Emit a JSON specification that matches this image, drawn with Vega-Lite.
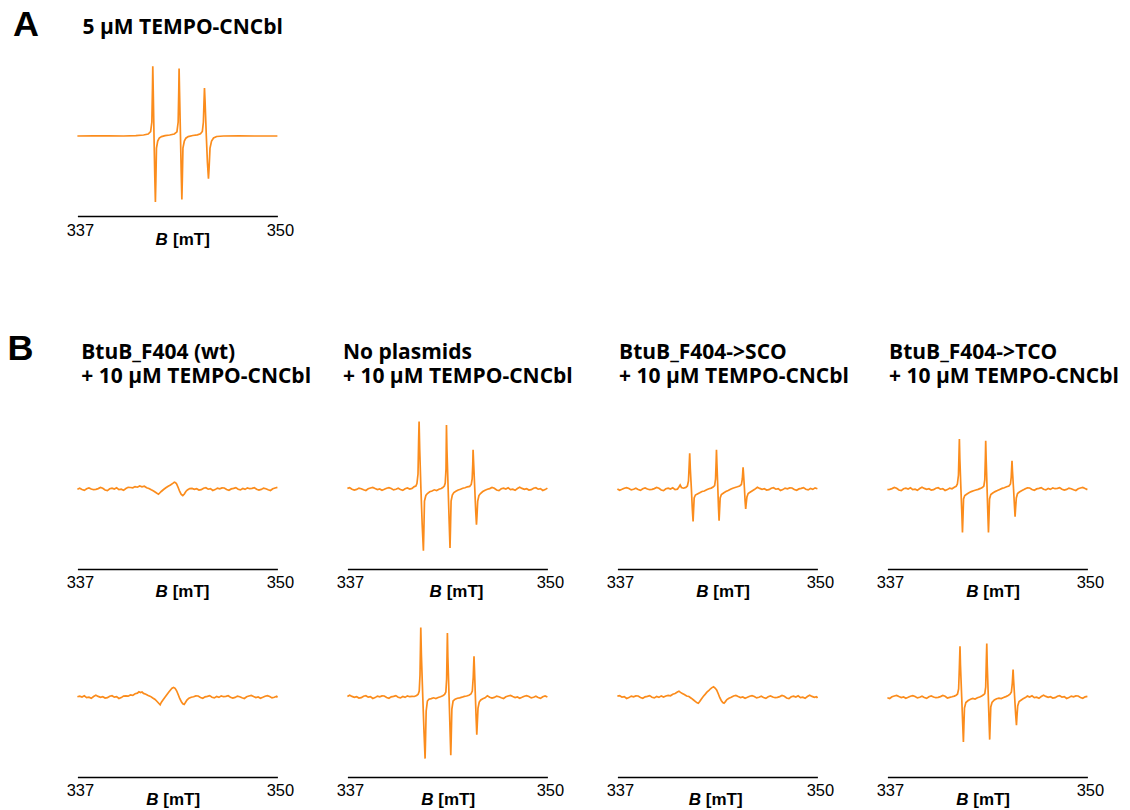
{
  "$schema": "https://vega.github.io/schema/vega-lite/v6.json",
  "background": "white",
  "padding": {"left": 7.4, "top": 7, "right": 5, "bottom": 5},
  "columns": 4,
  "bounds": "flush",
  "align": {"row": "each", "column": "all"},
  "spacing": {"row": 48, "column": 70},
  "datasets": {
    "a": [{"x":337,"y":0},{"x":338,"y":0.1},{"x":339,"y":0.2},{"x":340,"y":0},{"x":340.8,"y":0.4},{"x":341.3,"y":1},{"x":341.6,"y":2},{"x":341.76,"y":4.5},{"x":341.84,"y":14},{"x":341.88,"y":48},{"x":341.9,"y":69.7},{"x":341.93,"y":45},{"x":341.98,"y":0},{"x":342.03,"y":-40},{"x":342.07,"y":-66},{"x":342.1,"y":-45},{"x":342.14,"y":-12},{"x":342.22,"y":-5},{"x":342.32,"y":-2},{"x":342.47,"y":-0.6},{"x":342.7,"y":0.4},{"x":343,"y":1},{"x":343.3,"y":2},{"x":343.47,"y":4.2},{"x":343.55,"y":14},{"x":343.59,"y":46},{"x":343.61,"y":67.4},{"x":343.64,"y":44},{"x":343.7,"y":0},{"x":343.75,"y":-38},{"x":343.79,"y":-63.6},{"x":343.82,"y":-44},{"x":343.86,"y":-12},{"x":343.95,"y":-5},{"x":344.05,"y":-2.2},{"x":344.2,"y":-0.6},{"x":344.5,"y":0.5},{"x":344.8,"y":1.2},{"x":345,"y":2.2},{"x":345.12,"y":4.5},{"x":345.19,"y":14},{"x":345.23,"y":34},{"x":345.26,"y":48},{"x":345.3,"y":34},{"x":345.38,"y":0},{"x":345.45,"y":-26},{"x":345.52,"y":-42.6},{"x":345.56,"y":-32},{"x":345.62,"y":-12},{"x":345.72,"y":-5},{"x":345.85,"y":-2},{"x":346.05,"y":-0.5},{"x":346.5,"y":0},{"x":347.5,"y":0.2},{"x":348.5,"y":0},{"x":350,"y":0}],
    "b1": [{"x":337,"y":-0.2},{"x":337.15,"y":0.7},{"x":337.3,"y":-0.5},{"x":337.45,"y":-1.4},{"x":337.6,"y":0.3},{"x":337.75,"y":1.1},{"x":337.9,"y":0},{"x":338.05,"y":-0.7},{"x":338.2,"y":-0.3},{"x":338.35,"y":0.4},{"x":338.5,"y":1.5},{"x":338.65,"y":0.7},{"x":338.8,"y":-1},{"x":338.95,"y":-1.6},{"x":339.1,"y":0.2},{"x":339.25,"y":0.9},{"x":339.4,"y":-0.1},{"x":339.55,"y":1.2},{"x":339.7,"y":-0.6},{"x":339.85,"y":-0.2},{"x":340,"y":-1.3},{"x":340.15,"y":0.5},{"x":340.3,"y":1.7},{"x":340.45,"y":1.5},{"x":340.6,"y":1.2},{"x":340.75,"y":2.4},{"x":340.9,"y":1.8},{"x":341.05,"y":3},{"x":341.2,"y":2.2},{"x":341.35,"y":2.8},{"x":341.5,"y":1.2},{"x":341.65,"y":0.5},{"x":341.8,"y":-0.8},{"x":341.95,"y":-2},{"x":342.1,"y":-3.5},{"x":342.2,"y":-4.6},{"x":342.27,"y":-5.2},{"x":342.35,"y":-4},{"x":342.45,"y":-2.5},{"x":342.6,"y":-0.5},{"x":342.75,"y":1.2},{"x":342.9,"y":2.8},{"x":343.05,"y":4},{"x":343.2,"y":5.6},{"x":343.3,"y":6.8},{"x":343.38,"y":6.2},{"x":343.45,"y":5},{"x":343.55,"y":1.5},{"x":343.65,"y":-2.5},{"x":343.75,"y":-5.5},{"x":343.85,"y":-6.7},{"x":343.95,"y":-5},{"x":344.05,"y":-2.5},{"x":344.15,"y":-1},{"x":344.3,"y":0.4},{"x":344.45,"y":0.6},{"x":344.6,"y":-0.4},{"x":344.75,"y":0.3},{"x":344.9,"y":-1.1},{"x":345.05,"y":-0.7},{"x":345.2,"y":0.8},{"x":345.35,"y":1.3},{"x":345.5,"y":-0.2},{"x":345.65,"y":0.4},{"x":345.8,"y":-1.5},{"x":345.95,"y":-0.6},{"x":346.1,"y":0.9},{"x":346.25,"y":0.2},{"x":346.4,"y":1.1},{"x":346.55,"y":1},{"x":346.7,"y":-0.5},{"x":346.85,"y":-1.3},{"x":347,"y":0.1},{"x":347.15,"y":0.6},{"x":347.3,"y":1.4},{"x":347.45,"y":-0.2},{"x":347.6,"y":-0.9},{"x":347.75,"y":0.5},{"x":347.9,"y":-0.4},{"x":348.05,"y":1.1},{"x":348.2,"y":0.3},{"x":348.35,"y":0.6},{"x":348.5,"y":1.3},{"x":348.65,"y":-0.2},{"x":348.8,"y":-1.1},{"x":348.95,"y":-0.4},{"x":349.1,"y":0.9},{"x":349.25,"y":0.3},{"x":349.4,"y":-0.8},{"x":349.55,"y":-1.5},{"x":349.7,"y":0.2},{"x":349.85,"y":1},{"x":350,"y":1.6}],
    "b2": [{"x":337,"y":0.6},{"x":337.15,"y":1.3},{"x":337.3,"y":-0.2},{"x":337.45,"y":-1.1},{"x":337.6,"y":-0.4},{"x":337.75,"y":0.9},{"x":337.9,"y":0.3},{"x":338.05,"y":-0.8},{"x":338.2,"y":-1.5},{"x":338.35,"y":0.2},{"x":338.5,"y":1},{"x":338.65,"y":1.6},{"x":338.8,"y":0.4},{"x":338.95,"y":-0.6},{"x":339.1,"y":0.1},{"x":339.25,"y":-1.2},{"x":339.4,"y":-0.3},{"x":339.55,"y":0.8},{"x":339.7,"y":1.4},{"x":339.85,"y":0.5},{"x":340,"y":-0.9},{"x":340.15,"y":-0.2},{"x":340.3,"y":0.7},{"x":340.45,"y":-0.5},{"x":340.6,"y":-1.4},{"x":340.75,"y":0.3},{"x":340.9,"y":1.1},{"x":341.05,"y":0},{"x":341.2,"y":0.6},{"x":341.35,"y":2.4},{"x":341.45,"y":3},{"x":341.52,"y":5.5},{"x":341.59,"y":15},{"x":341.63,"y":48},{"x":341.66,"y":67.6},{"x":341.7,"y":40},{"x":341.78,"y":0},{"x":341.86,"y":-35},{"x":341.94,"y":-61.7},{"x":341.97,"y":-42},{"x":342.01,"y":-12},{"x":342.1,"y":-6.5},{"x":342.2,"y":-4.5},{"x":342.35,"y":-2.8},{"x":342.5,"y":-2},{"x":342.65,"y":-0.8},{"x":342.8,"y":-1.5},{"x":342.95,"y":-0.2},{"x":343.1,"y":0.5},{"x":343.2,"y":1.5},{"x":343.3,"y":3},{"x":343.36,"y":6},{"x":343.41,"y":20},{"x":343.44,"y":64},{"x":343.47,"y":40},{"x":343.55,"y":0},{"x":343.62,"y":-35},{"x":343.67,"y":-59},{"x":343.7,"y":-40},{"x":343.74,"y":-12},{"x":343.82,"y":-6},{"x":343.92,"y":-3.5},{"x":344.05,"y":-2.2},{"x":344.2,"y":-1},{"x":344.35,"y":-0.2},{"x":344.5,"y":0.8},{"x":344.65,"y":1.2},{"x":344.8,"y":2.2},{"x":344.95,"y":2.6},{"x":345.05,"y":4.5},{"x":345.11,"y":10},{"x":345.15,"y":25},{"x":345.17,"y":39.3},{"x":345.2,"y":28},{"x":345.28,"y":0},{"x":345.34,"y":-22},{"x":345.39,"y":-35.7},{"x":345.42,"y":-28},{"x":345.47,"y":-12},{"x":345.55,"y":-6.5},{"x":345.65,"y":-4.5},{"x":345.8,"y":-2.5},{"x":345.95,"y":-1.2},{"x":346.1,"y":-0.3},{"x":346.25,"y":0.4},{"x":346.4,"y":1.5},{"x":346.55,"y":0.7},{"x":346.7,"y":-1},{"x":346.85,"y":-1.6},{"x":347,"y":0.2},{"x":347.15,"y":0.9},{"x":347.3,"y":-0.1},{"x":347.45,"y":1.2},{"x":347.6,"y":-0.6},{"x":347.75,"y":-0.2},{"x":347.9,"y":-1.3},{"x":348.05,"y":0.5},{"x":348.2,"y":1.7},{"x":348.35,"y":0.6},{"x":348.5,"y":-0.4},{"x":348.65,"y":0.3},{"x":348.8,"y":-1.1},{"x":348.95,"y":-0.7},{"x":349.1,"y":0.8},{"x":349.25,"y":1.3},{"x":349.4,"y":-0.2},{"x":349.55,"y":0.4},{"x":349.7,"y":-1.5},{"x":349.85,"y":-0.6},{"x":350,"y":0.9}],
    "b3": [{"x":337,"y":0.1},{"x":337.15,"y":-1.2},{"x":337.3,"y":-0.3},{"x":337.45,"y":0.8},{"x":337.6,"y":1.4},{"x":337.75,"y":0.5},{"x":337.9,"y":-0.9},{"x":338.05,"y":-0.2},{"x":338.2,"y":0.7},{"x":338.35,"y":-0.5},{"x":338.5,"y":-1.4},{"x":338.65,"y":0.3},{"x":338.8,"y":1.1},{"x":338.95,"y":0},{"x":339.1,"y":-0.7},{"x":339.25,"y":-0.3},{"x":339.4,"y":0.4},{"x":339.55,"y":1.5},{"x":339.7,"y":0.7},{"x":339.85,"y":-1},{"x":340,"y":-1.6},{"x":340.15,"y":0.2},{"x":340.3,"y":0.9},{"x":340.45,"y":-0.1},{"x":340.6,"y":1.2},{"x":340.75,"y":-0.6},{"x":340.9,"y":-0.2},{"x":341,"y":2},{"x":341.08,"y":4},{"x":341.16,"y":1.5},{"x":341.3,"y":0.8},{"x":341.45,"y":1.6},{"x":341.55,"y":3},{"x":341.62,"y":8},{"x":341.67,"y":25},{"x":341.7,"y":35.6},{"x":341.74,"y":20},{"x":341.81,"y":0},{"x":341.87,"y":-20},{"x":341.92,"y":-32.4},{"x":341.95,"y":-22},{"x":341.99,"y":-9},{"x":342.07,"y":-6},{"x":342.2,"y":-5},{"x":342.35,"y":-3.8},{"x":342.5,"y":-2.5},{"x":342.65,"y":-2},{"x":342.8,"y":-0.8},{"x":342.95,"y":0.2},{"x":343.1,"y":0.9},{"x":343.22,"y":2},{"x":343.32,"y":3.5},{"x":343.38,"y":10},{"x":343.42,"y":28},{"x":343.44,"y":39.3},{"x":343.47,"y":25},{"x":343.53,"y":0},{"x":343.57,"y":-18},{"x":343.61,"y":-31.7},{"x":343.64,"y":-22},{"x":343.68,"y":-9},{"x":343.76,"y":-5.5},{"x":343.9,"y":-4},{"x":344.05,"y":-2.6},{"x":344.2,"y":-1.5},{"x":344.35,"y":-0.2},{"x":344.5,"y":0.8},{"x":344.65,"y":1.5},{"x":344.8,"y":2.2},{"x":344.95,"y":3},{"x":345.06,"y":4.5},{"x":345.12,"y":10},{"x":345.15,"y":17},{"x":345.17,"y":21.6},{"x":345.2,"y":15},{"x":345.26,"y":0},{"x":345.3,"y":-12},{"x":345.34,"y":-20},{"x":345.37,"y":-15},{"x":345.42,"y":-8},{"x":345.5,"y":-4.5},{"x":345.62,"y":-3.3},{"x":345.75,"y":-2},{"x":345.9,"y":-0.6},{"x":346.1,"y":1.7},{"x":346.25,"y":0.6},{"x":346.4,"y":-0.4},{"x":346.55,"y":0.3},{"x":346.7,"y":-1.1},{"x":346.85,"y":-0.7},{"x":347,"y":0.8},{"x":347.15,"y":1.3},{"x":347.3,"y":-0.2},{"x":347.45,"y":0.4},{"x":347.6,"y":-1.5},{"x":347.75,"y":-0.6},{"x":347.9,"y":0.9},{"x":348.05,"y":0.2},{"x":348.2,"y":1.1},{"x":348.35,"y":1},{"x":348.5,"y":-0.5},{"x":348.65,"y":-1.3},{"x":348.8,"y":0.1},{"x":348.95,"y":0.6},{"x":349.1,"y":1.4},{"x":349.25,"y":-0.2},{"x":349.4,"y":-0.9},{"x":349.55,"y":0.5},{"x":349.7,"y":-0.4},{"x":349.85,"y":1.1},{"x":350,"y":0.3}],
    "b4": [{"x":337,"y":-0.7},{"x":337.15,"y":-0.3},{"x":337.3,"y":0.4},{"x":337.45,"y":1.5},{"x":337.6,"y":0.7},{"x":337.75,"y":-1},{"x":337.9,"y":-1.6},{"x":338.05,"y":0.2},{"x":338.2,"y":0.9},{"x":338.35,"y":-0.1},{"x":338.5,"y":1.2},{"x":338.65,"y":-0.6},{"x":338.8,"y":-0.2},{"x":338.95,"y":-1.3},{"x":339.1,"y":0.5},{"x":339.25,"y":1.7},{"x":339.4,"y":0.6},{"x":339.55,"y":-0.4},{"x":339.7,"y":0.3},{"x":339.85,"y":-1.1},{"x":340,"y":-0.7},{"x":340.15,"y":0.8},{"x":340.3,"y":1.3},{"x":340.45,"y":-0.2},{"x":340.6,"y":0.4},{"x":340.75,"y":-1.5},{"x":340.9,"y":-0.6},{"x":341.05,"y":0.9},{"x":341.2,"y":0.2},{"x":341.35,"y":1.8},{"x":341.47,"y":2.6},{"x":341.55,"y":5},{"x":341.62,"y":14},{"x":341.66,"y":38},{"x":341.68,"y":50},{"x":341.71,"y":30},{"x":341.78,"y":0},{"x":341.84,"y":-25},{"x":341.88,"y":-43.4},{"x":341.91,"y":-30},{"x":341.95,"y":-10},{"x":342.03,"y":-6.5},{"x":342.15,"y":-5.2},{"x":342.3,"y":-3.8},{"x":342.45,"y":-2.6},{"x":342.6,"y":-1.8},{"x":342.75,"y":-1},{"x":342.9,"y":-0.4},{"x":343.05,"y":0.6},{"x":343.17,"y":1.5},{"x":343.27,"y":3},{"x":343.33,"y":9},{"x":343.37,"y":32},{"x":343.39,"y":48.3},{"x":343.42,"y":30},{"x":343.48,"y":0},{"x":343.53,"y":-25},{"x":343.57,"y":-43.4},{"x":343.6,"y":-30},{"x":343.64,"y":-10},{"x":343.72,"y":-5.5},{"x":343.85,"y":-4},{"x":344,"y":-2.6},{"x":344.15,"y":-1.6},{"x":344.3,"y":-0.4},{"x":344.45,"y":0.6},{"x":344.6,"y":1.3},{"x":344.75,"y":2.2},{"x":344.9,"y":3},{"x":345,"y":5},{"x":345.05,"y":12},{"x":345.08,"y":22},{"x":345.1,"y":28.3},{"x":345.13,"y":18},{"x":345.2,"y":0},{"x":345.26,"y":-17},{"x":345.3,"y":-27.7},{"x":345.33,"y":-20},{"x":345.38,"y":-9},{"x":345.46,"y":-4.5},{"x":345.58,"y":-3},{"x":345.72,"y":-1.8},{"x":345.87,"y":-0.6},{"x":346,"y":0.5},{"x":346.1,"y":1.1},{"x":346.25,"y":1},{"x":346.4,"y":-0.5},{"x":346.55,"y":-1.3},{"x":346.7,"y":0.1},{"x":346.85,"y":0.6},{"x":347,"y":1.4},{"x":347.15,"y":-0.2},{"x":347.3,"y":-0.9},{"x":347.45,"y":0.5},{"x":347.6,"y":-0.4},{"x":347.75,"y":1.1},{"x":347.9,"y":0.3},{"x":348.05,"y":0.6},{"x":348.2,"y":1.3},{"x":348.35,"y":-0.2},{"x":348.5,"y":-1.1},{"x":348.65,"y":-0.4},{"x":348.8,"y":0.9},{"x":348.95,"y":0.3},{"x":349.1,"y":-0.8},{"x":349.25,"y":-1.5},{"x":349.4,"y":0.2},{"x":349.55,"y":1},{"x":349.7,"y":1.6},{"x":349.85,"y":0.4},{"x":350,"y":-0.6}],
    "b5": [{"x":337,"y":0.2},{"x":337.15,"y":0.9},{"x":337.3,"y":-0.1},{"x":337.45,"y":1.2},{"x":337.6,"y":-0.6},{"x":337.75,"y":-0.2},{"x":337.9,"y":-1.3},{"x":338.05,"y":0.5},{"x":338.2,"y":1.7},{"x":338.35,"y":0.6},{"x":338.5,"y":-0.4},{"x":338.65,"y":0.3},{"x":338.8,"y":-1.1},{"x":338.95,"y":-0.7},{"x":339.1,"y":0.8},{"x":339.25,"y":1.3},{"x":339.4,"y":-0.2},{"x":339.55,"y":0.4},{"x":339.7,"y":-1.5},{"x":339.85,"y":-0.6},{"x":340,"y":0.9},{"x":340.15,"y":1.2},{"x":340.3,"y":0.8},{"x":340.45,"y":2},{"x":340.6,"y":1.6},{"x":340.75,"y":3.2},{"x":340.9,"y":3.8},{"x":341,"y":5.2},{"x":341.1,"y":4.4},{"x":341.2,"y":5},{"x":341.3,"y":3.6},{"x":341.45,"y":2.8},{"x":341.6,"y":1.5},{"x":341.75,"y":0.6},{"x":341.9,"y":-1},{"x":342.05,"y":-2.5},{"x":342.18,"y":-4.5},{"x":342.3,"y":-6.5},{"x":342.38,"y":-7.8},{"x":342.45,"y":-5.5},{"x":342.55,"y":-3.2},{"x":342.68,"y":-0.5},{"x":342.8,"y":2},{"x":342.92,"y":4.5},{"x":343.05,"y":7},{"x":343.15,"y":8.8},{"x":343.25,"y":9.6},{"x":343.35,"y":8.6},{"x":343.45,"y":6.2},{"x":343.55,"y":2.5},{"x":343.65,"y":-1.5},{"x":343.75,"y":-4.5},{"x":343.85,"y":-6.8},{"x":343.94,"y":-7.4},{"x":344.02,"y":-5.5},{"x":344.12,"y":-3},{"x":344.25,"y":-1.2},{"x":344.4,"y":-0.2},{"x":344.55,"y":0.2},{"x":344.7,"y":1.1},{"x":344.85,"y":1},{"x":345,"y":-0.5},{"x":345.15,"y":-1.3},{"x":345.3,"y":0.1},{"x":345.45,"y":0.6},{"x":345.6,"y":1.4},{"x":345.75,"y":-0.2},{"x":345.9,"y":-0.9},{"x":346.05,"y":0.5},{"x":346.2,"y":-0.4},{"x":346.35,"y":1.1},{"x":346.5,"y":0.3},{"x":346.65,"y":0.6},{"x":346.8,"y":1.3},{"x":346.95,"y":-0.2},{"x":347.1,"y":-1.1},{"x":347.25,"y":-0.4},{"x":347.4,"y":0.9},{"x":347.55,"y":0.3},{"x":347.7,"y":-0.8},{"x":347.85,"y":-1.5},{"x":348,"y":0.2},{"x":348.15,"y":1},{"x":348.3,"y":1.6},{"x":348.45,"y":0.4},{"x":348.6,"y":-0.6},{"x":348.75,"y":0.1},{"x":348.9,"y":-1.2},{"x":349.05,"y":-0.3},{"x":349.2,"y":0.8},{"x":349.35,"y":1.4},{"x":349.5,"y":0.5},{"x":349.65,"y":-0.9},{"x":349.8,"y":-0.2},{"x":349.95,"y":0.7},{"x":350,"y":-0.5}],
    "b6": [{"x":337,"y":0.5},{"x":337.15,"y":1.7},{"x":337.3,"y":0.6},{"x":337.45,"y":-0.4},{"x":337.6,"y":0.3},{"x":337.75,"y":-1.1},{"x":337.9,"y":-0.7},{"x":338.05,"y":0.8},{"x":338.2,"y":1.3},{"x":338.35,"y":-0.2},{"x":338.5,"y":0.4},{"x":338.65,"y":-1.5},{"x":338.8,"y":-0.6},{"x":338.95,"y":0.9},{"x":339.1,"y":0.2},{"x":339.25,"y":1.1},{"x":339.4,"y":1},{"x":339.55,"y":-0.5},{"x":339.7,"y":-1.3},{"x":339.85,"y":0.1},{"x":340,"y":0.6},{"x":340.15,"y":1.4},{"x":340.3,"y":-0.2},{"x":340.45,"y":-0.9},{"x":340.6,"y":0.5},{"x":340.75,"y":-0.4},{"x":340.9,"y":1.1},{"x":341.05,"y":0.3},{"x":341.2,"y":0.6},{"x":341.35,"y":0.5},{"x":341.5,"y":1.5},{"x":341.6,"y":2.8},{"x":341.67,"y":6},{"x":341.72,"y":22},{"x":341.75,"y":50},{"x":341.77,"y":69.4},{"x":341.81,"y":42},{"x":341.9,"y":0},{"x":341.98,"y":-35},{"x":342.05,"y":-61.6},{"x":342.08,"y":-42},{"x":342.12,"y":-14},{"x":342.2,"y":-4},{"x":342.3,"y":-2.2},{"x":342.45,"y":-1.6},{"x":342.6,"y":-0.8},{"x":342.75,"y":-1.5},{"x":342.9,"y":-0.5},{"x":343.05,"y":0.3},{"x":343.2,"y":1.2},{"x":343.32,"y":2.5},{"x":343.4,"y":5},{"x":343.45,"y":18},{"x":343.48,"y":45},{"x":343.5,"y":64},{"x":343.53,"y":40},{"x":343.61,"y":0},{"x":343.67,"y":-32},{"x":343.72,"y":-58.3},{"x":343.75,"y":-40},{"x":343.79,"y":-12},{"x":343.87,"y":-4},{"x":344,"y":-2.2},{"x":344.15,"y":-1.2},{"x":344.3,"y":-0.8},{"x":344.45,"y":-0.2},{"x":344.6,"y":0.6},{"x":344.75,"y":1},{"x":344.9,"y":1.8},{"x":345.03,"y":3},{"x":345.12,"y":6},{"x":345.18,"y":20},{"x":345.21,"y":33},{"x":345.23,"y":40.7},{"x":345.26,"y":28},{"x":345.32,"y":0},{"x":345.37,"y":-22},{"x":345.41,"y":-37.6},{"x":345.44,"y":-28},{"x":345.49,"y":-11},{"x":345.57,"y":-5},{"x":345.67,"y":-3},{"x":345.8,"y":-1.8},{"x":345.95,"y":-0.8},{"x":346.1,"y":1.3},{"x":346.25,"y":-0.2},{"x":346.4,"y":-1.1},{"x":346.55,"y":-0.4},{"x":346.7,"y":0.9},{"x":346.85,"y":0.3},{"x":347,"y":-0.8},{"x":347.15,"y":-1.5},{"x":347.3,"y":0.2},{"x":347.45,"y":1},{"x":347.6,"y":1.6},{"x":347.75,"y":0.4},{"x":347.9,"y":-0.6},{"x":348.05,"y":0.1},{"x":348.2,"y":-1.2},{"x":348.35,"y":-0.3},{"x":348.5,"y":0.8},{"x":348.65,"y":1.4},{"x":348.8,"y":0.5},{"x":348.95,"y":-0.9},{"x":349.1,"y":-0.2},{"x":349.25,"y":0.7},{"x":349.4,"y":-0.5},{"x":349.55,"y":-1.4},{"x":349.7,"y":0.3},{"x":349.85,"y":1.1},{"x":350,"y":0}],
    "b7": [{"x":337,"y":0.8},{"x":337.15,"y":1.3},{"x":337.3,"y":-0.2},{"x":337.45,"y":0.4},{"x":337.6,"y":-1.5},{"x":337.75,"y":-0.6},{"x":337.9,"y":0.9},{"x":338.05,"y":0.2},{"x":338.2,"y":1.1},{"x":338.35,"y":1},{"x":338.5,"y":-0.5},{"x":338.65,"y":-1.3},{"x":338.8,"y":0.1},{"x":338.95,"y":0.6},{"x":339.1,"y":1.4},{"x":339.25,"y":-0.2},{"x":339.4,"y":-0.9},{"x":339.55,"y":0.5},{"x":339.7,"y":-0.4},{"x":339.85,"y":1.1},{"x":340,"y":0},{"x":340.15,"y":1},{"x":340.3,"y":1.6},{"x":340.45,"y":1.2},{"x":340.6,"y":2.8},{"x":340.75,"y":3.5},{"x":340.9,"y":5},{"x":341,"y":5.8},{"x":341.1,"y":4.6},{"x":341.22,"y":3.6},{"x":341.35,"y":2.5},{"x":341.5,"y":1},{"x":341.65,"y":0.5},{"x":341.8,"y":-1.2},{"x":341.95,"y":-3},{"x":342.08,"y":-4.6},{"x":342.18,"y":-5.8},{"x":342.26,"y":-6.2},{"x":342.35,"y":-4.5},{"x":342.45,"y":-2.2},{"x":342.58,"y":0.5},{"x":342.7,"y":2.6},{"x":342.82,"y":4.8},{"x":342.95,"y":6.5},{"x":343.05,"y":8.2},{"x":343.15,"y":9.4},{"x":343.25,"y":10.2},{"x":343.35,"y":9},{"x":343.45,"y":7},{"x":343.55,"y":3.5},{"x":343.65,"y":-0.5},{"x":343.75,"y":-3.5},{"x":343.85,"y":-5.6},{"x":343.93,"y":-6.2},{"x":344.02,"y":-4.6},{"x":344.12,"y":-2.6},{"x":344.25,"y":-1.2},{"x":344.4,"y":-0.3},{"x":344.55,"y":1},{"x":344.7,"y":1.6},{"x":344.85,"y":0.4},{"x":345,"y":-0.6},{"x":345.15,"y":0.1},{"x":345.3,"y":-1.2},{"x":345.45,"y":-0.3},{"x":345.6,"y":0.8},{"x":345.75,"y":1.4},{"x":345.9,"y":0.5},{"x":346.05,"y":-0.9},{"x":346.2,"y":-0.2},{"x":346.35,"y":0.7},{"x":346.5,"y":-0.5},{"x":346.65,"y":-1.4},{"x":346.8,"y":0.3},{"x":346.95,"y":1.1},{"x":347.1,"y":0},{"x":347.25,"y":-0.7},{"x":347.4,"y":-0.3},{"x":347.55,"y":0.4},{"x":347.7,"y":1.5},{"x":347.85,"y":0.7},{"x":348,"y":-1},{"x":348.15,"y":-1.6},{"x":348.3,"y":0.2},{"x":348.45,"y":0.9},{"x":348.6,"y":-0.1},{"x":348.75,"y":1.2},{"x":348.9,"y":-0.6},{"x":349.05,"y":-0.2},{"x":349.2,"y":-1.3},{"x":349.35,"y":0.5},{"x":349.5,"y":1.7},{"x":349.65,"y":0.6},{"x":349.8,"y":-0.4},{"x":349.95,"y":0.3},{"x":350,"y":-1.1}],
    "b8": [{"x":337,"y":-0.8},{"x":337.15,"y":-1.5},{"x":337.3,"y":0.2},{"x":337.45,"y":1},{"x":337.6,"y":1.6},{"x":337.75,"y":0.4},{"x":337.9,"y":-0.6},{"x":338.05,"y":0.1},{"x":338.2,"y":-1.2},{"x":338.35,"y":-0.3},{"x":338.5,"y":0.8},{"x":338.65,"y":1.4},{"x":338.8,"y":0.5},{"x":338.95,"y":-0.9},{"x":339.1,"y":-0.2},{"x":339.25,"y":0.7},{"x":339.4,"y":-0.5},{"x":339.55,"y":-1.4},{"x":339.7,"y":0.3},{"x":339.85,"y":1.1},{"x":340,"y":0},{"x":340.15,"y":-0.7},{"x":340.3,"y":-0.3},{"x":340.45,"y":0.4},{"x":340.6,"y":1.5},{"x":340.75,"y":0.7},{"x":340.9,"y":-1},{"x":341.05,"y":-0.4},{"x":341.2,"y":0.2},{"x":341.35,"y":0.9},{"x":341.47,"y":1.8},{"x":341.56,"y":3},{"x":341.63,"y":8},{"x":341.68,"y":30},{"x":341.72,"y":50.7},{"x":341.75,"y":32},{"x":341.83,"y":0},{"x":341.89,"y":-25},{"x":341.94,"y":-45},{"x":341.97,"y":-30},{"x":342.01,"y":-11},{"x":342.1,"y":-5.5},{"x":342.25,"y":-3.5},{"x":342.4,"y":-2.2},{"x":342.55,"y":-1.4},{"x":342.7,"y":-2},{"x":342.85,"y":-0.8},{"x":343,"y":0},{"x":343.13,"y":1},{"x":343.25,"y":2.2},{"x":343.33,"y":3.5},{"x":343.39,"y":10},{"x":343.43,"y":36},{"x":343.46,"y":53.4},{"x":343.49,"y":32},{"x":343.56,"y":0},{"x":343.61,"y":-25},{"x":343.65,"y":-42.6},{"x":343.68,"y":-28},{"x":343.72,"y":-10},{"x":343.8,"y":-5.5},{"x":343.95,"y":-3},{"x":344.1,"y":-1.8},{"x":344.25,"y":-1.2},{"x":344.4,"y":-1.6},{"x":344.55,"y":-0.5},{"x":344.7,"y":0.4},{"x":344.85,"y":1.5},{"x":344.97,"y":2.8},{"x":345.06,"y":5},{"x":345.12,"y":14},{"x":345.15,"y":22},{"x":345.17,"y":27.4},{"x":345.2,"y":18},{"x":345.27,"y":0},{"x":345.34,"y":-18},{"x":345.39,"y":-28.3},{"x":345.42,"y":-20},{"x":345.47,"y":-9},{"x":345.56,"y":-4.5},{"x":345.68,"y":-3.2},{"x":345.82,"y":-1.8},{"x":345.97,"y":-0.6},{"x":346.1,"y":0.9},{"x":346.25,"y":-0.1},{"x":346.4,"y":1.2},{"x":346.55,"y":-0.6},{"x":346.7,"y":-0.2},{"x":346.85,"y":-1.3},{"x":347,"y":0.5},{"x":347.15,"y":1.7},{"x":347.3,"y":0.6},{"x":347.45,"y":-0.4},{"x":347.6,"y":0.3},{"x":347.75,"y":-1.1},{"x":347.9,"y":-0.7},{"x":348.05,"y":0.8},{"x":348.2,"y":1.3},{"x":348.35,"y":-0.2},{"x":348.5,"y":0.4},{"x":348.65,"y":-1.5},{"x":348.8,"y":-0.6},{"x":348.95,"y":0.9},{"x":349.1,"y":0.2},{"x":349.25,"y":1.1},{"x":349.4,"y":1},{"x":349.55,"y":-0.5},{"x":349.7,"y":-1.3},{"x":349.85,"y":0.1},{"x":350,"y":0.6}]
  },
  "concat": [
    {"width": 200, "height": 160, "layer": [
      {"data": {"name": "a"}, "mark": {"type": "line", "color": "#FB8C1C", "strokeWidth": 1.7},
       "encoding": {"x": {"field": "x", "type": "quantitative", "scale": {"domain": [337, 350], "nice": false, "zero": false}, "axis": {"values": [337, 350], "title": null}},
                    "y": {"field": "y", "type": "quantitative", "scale": {"domain": [-80, 80], "nice": false, "zero": false}, "axis": null}}},
      {"data": {"values": [{}]}, "mark": {"type": "text", "style": "big", "text": "A"}, "encoding": {"x": {"datum": 332.82, "axis": {"values": [337, 350], "title": null}}, "y": {"datum": 100, "axis": null}}},
      {"data": {"values": [{}]}, "mark": {"type": "text", "style": "ttl", "text": "5 µM TEMPO-CNCbl"}, "encoding": {"x": {"datum": 337.33, "axis": {"values": [337, 350], "title": null}}, "y": {"datum": 101.7, "axis": null}}},
      {"data": {"values": [{}]}, "mark": {"type": "text", "style": "bi", "text": "B"}, "encoding": {"x": {"datum": 342.08, "axis": {"values": [337, 350], "title": null}}, "y": {"datum": -109, "axis": null}}},
      {"data": {"values": [{}]}, "mark": {"type": "text", "style": "mt", "text": "[mT]"}, "encoding": {"x": {"datum": 343.22, "axis": {"values": [337, 350], "title": null}}, "y": {"datum": -109, "axis": null}}}
    ]},
    {"width": 200, "height": 305, "data": {"values": [{}]}, "mark": {"type": "text", "text": ""}},
    {"width": 200, "height": 305, "data": {"values": [{}]}, "mark": {"type": "text", "text": ""}},
    {"width": 200, "height": 305, "data": {"values": [{}]}, "mark": {"type": "text", "text": ""}},
    {"width": 200, "height": 160, "layer": [
      {"data": {"name": "b1"}, "mark": {"type": "line", "color": "#FB8C1C", "strokeWidth": 1.7},
       "encoding": {"x": {"field": "x", "type": "quantitative", "scale": {"domain": [337, 350], "nice": false, "zero": false}, "axis": {"values": [337, 350], "title": null}},
                    "y": {"field": "y", "type": "quantitative", "scale": {"domain": [-80, 80], "nice": false, "zero": false}, "axis": null}}},
      {"data": {"values": [{}]}, "mark": {"type": "text", "style": "big", "text": "B"}, "encoding": {"x": {"datum": 332.46, "axis": {"values": [337, 350], "title": null}}, "y": {"datum": 129.3, "axis": null}}},
      {"data": {"values": [{}]}, "mark": {"type": "text", "style": "ttl", "text": ["BtuB_F404 (wt)", "+ 10 µM TEMPO-CNCbl"]}, "encoding": {"x": {"datum": 337.25, "axis": {"values": [337, 350], "title": null}}, "y": {"datum": 130, "axis": null}}},
      {"data": {"values": [{}]}, "mark": {"type": "text", "style": "bi", "text": "B"}, "encoding": {"x": {"datum": 342.08, "axis": {"values": [337, 350], "title": null}}, "y": {"datum": -108, "axis": null}}},
      {"data": {"values": [{}]}, "mark": {"type": "text", "style": "mt", "text": "[mT]"}, "encoding": {"x": {"datum": 343.19, "axis": {"values": [337, 350], "title": null}}, "y": {"datum": -108, "axis": null}}}
    ]},
    {"width": 200, "height": 160, "layer": [
      {"data": {"name": "b2"}, "mark": {"type": "line", "color": "#FB8C1C", "strokeWidth": 1.7},
       "encoding": {"x": {"field": "x", "type": "quantitative", "scale": {"domain": [337, 350], "nice": false, "zero": false}, "axis": {"values": [337, 350], "title": null}},
                    "y": {"field": "y", "type": "quantitative", "scale": {"domain": [-80, 80], "nice": false, "zero": false}, "axis": null}}},
      {"data": {"values": [{}]}, "mark": {"type": "text", "style": "ttl", "text": ["No plasmids", "+ 10 µM TEMPO-CNCbl"]}, "encoding": {"x": {"datum": 336.71, "axis": {"values": [337, 350], "title": null}}, "y": {"datum": 130, "axis": null}}},
      {"data": {"values": [{}]}, "mark": {"type": "text", "style": "bi", "text": "B"}, "encoding": {"x": {"datum": 342.34, "axis": {"values": [337, 350], "title": null}}, "y": {"datum": -108, "axis": null}}},
      {"data": {"values": [{}]}, "mark": {"type": "text", "style": "mt", "text": "[mT]"}, "encoding": {"x": {"datum": 343.45, "axis": {"values": [337, 350], "title": null}}, "y": {"datum": -108, "axis": null}}}
    ]},
    {"width": 200, "height": 160, "layer": [
      {"data": {"name": "b3"}, "mark": {"type": "line", "color": "#FB8C1C", "strokeWidth": 1.7},
       "encoding": {"x": {"field": "x", "type": "quantitative", "scale": {"domain": [337, 350], "nice": false, "zero": false}, "axis": {"values": [337, 350], "title": null}},
                    "y": {"field": "y", "type": "quantitative", "scale": {"domain": [-80, 80], "nice": false, "zero": false}, "axis": null}}},
      {"data": {"values": [{}]}, "mark": {"type": "text", "style": "ttl", "text": ["BtuB_F404->SCO", "+ 10 µM TEMPO-CNCbl"]}, "encoding": {"x": {"datum": 337.11, "axis": {"values": [337, 350], "title": null}}, "y": {"datum": 130, "axis": null}}},
      {"data": {"values": [{}]}, "mark": {"type": "text", "style": "bi", "text": "B"}, "encoding": {"x": {"datum": 342.12, "axis": {"values": [337, 350], "title": null}}, "y": {"datum": -108, "axis": null}}},
      {"data": {"values": [{}]}, "mark": {"type": "text", "style": "mt", "text": "[mT]"}, "encoding": {"x": {"datum": 343.23, "axis": {"values": [337, 350], "title": null}}, "y": {"datum": -108, "axis": null}}}
    ]},
    {"width": 200, "height": 160, "layer": [
      {"data": {"name": "b4"}, "mark": {"type": "line", "color": "#FB8C1C", "strokeWidth": 1.7},
       "encoding": {"x": {"field": "x", "type": "quantitative", "scale": {"domain": [337, 350], "nice": false, "zero": false}, "axis": {"values": [337, 350], "title": null}},
                    "y": {"field": "y", "type": "quantitative", "scale": {"domain": [-80, 80], "nice": false, "zero": false}, "axis": null}}},
      {"data": {"values": [{}]}, "mark": {"type": "text", "style": "ttl", "text": ["BtuB_F404->TCO", "+ 10 µM TEMPO-CNCbl"]}, "encoding": {"x": {"datum": 337.11, "axis": {"values": [337, 350], "title": null}}, "y": {"datum": 130, "axis": null}}},
      {"data": {"values": [{}]}, "mark": {"type": "text", "style": "bi", "text": "B"}, "encoding": {"x": {"datum": 342.12, "axis": {"values": [337, 350], "title": null}}, "y": {"datum": -108, "axis": null}}},
      {"data": {"values": [{}]}, "mark": {"type": "text", "style": "mt", "text": "[mT]"}, "encoding": {"x": {"datum": 343.23, "axis": {"values": [337, 350], "title": null}}, "y": {"datum": -108, "axis": null}}}
    ]},
    {"width": 200, "height": 160, "layer": [
      {"data": {"name": "b5"}, "mark": {"type": "line", "color": "#FB8C1C", "strokeWidth": 1.7},
       "encoding": {"x": {"field": "x", "type": "quantitative", "scale": {"domain": [337, 350], "nice": false, "zero": false}, "axis": {"values": [337, 350], "title": null}},
                    "y": {"field": "y", "type": "quantitative", "scale": {"domain": [-80, 80], "nice": false, "zero": false}, "axis": null}}},
      {"data": {"values": [{}]}, "mark": {"type": "text", "style": "bi", "text": "B"}, "encoding": {"x": {"datum": 341.47, "axis": {"values": [337, 350], "title": null}}, "y": {"datum": -108, "axis": null}}},
      {"data": {"values": [{}]}, "mark": {"type": "text", "style": "mt", "text": "[mT]"}, "encoding": {"x": {"datum": 342.58, "axis": {"values": [337, 350], "title": null}}, "y": {"datum": -108, "axis": null}}}
    ]},
    {"width": 200, "height": 160, "layer": [
      {"data": {"name": "b6"}, "mark": {"type": "line", "color": "#FB8C1C", "strokeWidth": 1.7},
       "encoding": {"x": {"field": "x", "type": "quantitative", "scale": {"domain": [337, 350], "nice": false, "zero": false}, "axis": {"values": [337, 350], "title": null}},
                    "y": {"field": "y", "type": "quantitative", "scale": {"domain": [-80, 80], "nice": false, "zero": false}, "axis": null}}},
      {"data": {"values": [{}]}, "mark": {"type": "text", "style": "bi", "text": "B"}, "encoding": {"x": {"datum": 341.8, "axis": {"values": [337, 350], "title": null}}, "y": {"datum": -108, "axis": null}}},
      {"data": {"values": [{}]}, "mark": {"type": "text", "style": "mt", "text": "[mT]"}, "encoding": {"x": {"datum": 342.91, "axis": {"values": [337, 350], "title": null}}, "y": {"datum": -108, "axis": null}}}
    ]},
    {"width": 200, "height": 160, "layer": [
      {"data": {"name": "b7"}, "mark": {"type": "line", "color": "#FB8C1C", "strokeWidth": 1.7},
       "encoding": {"x": {"field": "x", "type": "quantitative", "scale": {"domain": [337, 350], "nice": false, "zero": false}, "axis": {"values": [337, 350], "title": null}},
                    "y": {"field": "y", "type": "quantitative", "scale": {"domain": [-80, 80], "nice": false, "zero": false}, "axis": null}}},
      {"data": {"values": [{}]}, "mark": {"type": "text", "style": "bi", "text": "B"}, "encoding": {"x": {"datum": 341.64, "axis": {"values": [337, 350], "title": null}}, "y": {"datum": -108, "axis": null}}},
      {"data": {"values": [{}]}, "mark": {"type": "text", "style": "mt", "text": "[mT]"}, "encoding": {"x": {"datum": 342.75, "axis": {"values": [337, 350], "title": null}}, "y": {"datum": -108, "axis": null}}}
    ]},
    {"width": 200, "height": 160, "layer": [
      {"data": {"name": "b8"}, "mark": {"type": "line", "color": "#FB8C1C", "strokeWidth": 1.7},
       "encoding": {"x": {"field": "x", "type": "quantitative", "scale": {"domain": [337, 350], "nice": false, "zero": false}, "axis": {"values": [337, 350], "title": null}},
                    "y": {"field": "y", "type": "quantitative", "scale": {"domain": [-80, 80], "nice": false, "zero": false}, "axis": null}}},
      {"data": {"values": [{}]}, "mark": {"type": "text", "style": "bi", "text": "B"}, "encoding": {"x": {"datum": 341.47, "axis": {"values": [337, 350], "title": null}}, "y": {"datum": -108, "axis": null}}},
      {"data": {"values": [{}]}, "mark": {"type": "text", "style": "mt", "text": "[mT]"}, "encoding": {"x": {"datum": 342.58, "axis": {"values": [337, 350], "title": null}}, "y": {"datum": -108, "axis": null}}}
    ]}
  ],
  "config": {
    "view": {"stroke": null},
    "axis": {"grid": false, "ticks": false, "domainColor": "#000000", "domainWidth": 1.5, "labelFont": "Liberation Sans", "labelFontSize": 16.5, "labelColor": "#000000", "labelPadding": 6, "labelFlush": false, "labelOffset": 2.5},
    "text": {"align": "left", "baseline": "alphabetic", "color": "#000000"},
    "style": {
      "ttl": {"font": "Open Sans", "fontSize": 21, "fontWeight": "bold", "lineHeight": 24},
      "big": {"font": "Liberation Sans", "fontSize": 36, "fontWeight": "bold"},
      "bi": {"font": "Liberation Sans", "fontSize": 17, "fontWeight": "bold", "fontStyle": "italic"},
      "mt": {"font": "Liberation Sans", "fontSize": 17, "fontWeight": "bold"}
    }
  }
}
